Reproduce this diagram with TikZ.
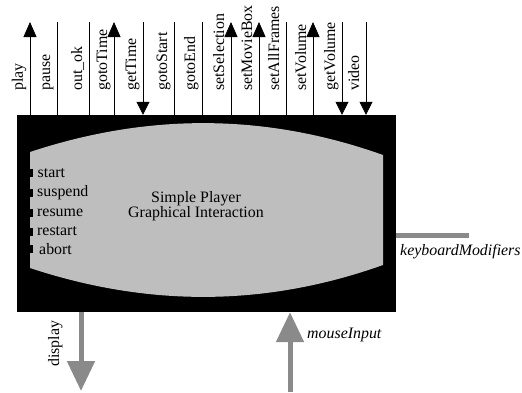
\documentclass[tikz,border=0pt]{standalone}
\usepackage{fontspec}
\setmainfont{Liberation Serif}
\usetikzlibrary{arrows.meta}
\definecolor{panel}{HTML}{BEBEBE}
\definecolor{flow}{HTML}{8A8A8A}
\tikzset{
  sig/.style={line width=0.8pt, black},
  sigup/.style={sig, {Triangle[length=15pt,width=13pt]}-},
  sigdown/.style={sig, -{Triangle[length=13pt,width=13pt]}},
  signone/.style={sig},
  toplabel/.style={rotate=90, anchor=base west, inner sep=0pt},
  sidelabel/.style={anchor=base west, inner sep=0pt},
  flowline/.style={flow, line width=5pt},
  flowarrow/.style={flow, line width=5pt, -{Triangle[length=30pt,width=27pt]}},
  tab/.style={fill=black},
}
\begin{document}
\begin{tikzpicture}[x=1pt,y=-1pt,font=\fontsize{15.9}{15}\selectfont]
\useasboundingbox (0,0) rectangle (522,392);
% main box
\node[fill=black, minimum width=379pt, minimum height=197pt, inner sep=0pt] (box) at (206.5,213.5) {};
% gray panel
\fill[panel] (30,152) .. controls (148,113) and (265,113) .. (383,155)
  -- (383,265) .. controls (265,307) and (148,307) .. (30,268) -- cycle;
% tabs
\foreach \y in {177,197,217,236,253}{
  \fill[tab] (30,\y-8) rectangle (33,\y);
}
\node[sidelabel] (start) at (37.5,177) {start};
\node[sidelabel] (suspend) at (37,196) {suspend};
\node[sidelabel] (resume) at (37,216) {resume};
\node[sidelabel] (restart) at (37,235) {restart};
\node[sidelabel] (abort) at (39,254) {abort};
\node[align=center, inner sep=0pt] (title) at (196,206) {Simple Player\\Graphical Interaction};
% top signals
\foreach \x/\lab/\kind [count=\i] in {30/play/up, 57/pause/none, 89/out\_ok/none, 114/gotoTime/up,
  143/getTime/down, 174/gotoStart/none, 202/gotoEnd/none, 231/setSelection/up,
  259/setMovieBox/up, 286/setAllFrames/none, 313/setVolume/up, 342/getVolume/down, 366/video/down}{
  \coordinate (t\i) at (\x,22);
  \draw[sig\kind] (t\i) -- (t\i |- box.north);
  \node[toplabel] (l\i) at (\x-7,91) {\lab};
}
% keyboard modifiers
\coordinate (kbend) at (469,235);
\draw[flowline] (box.east |- kbend) -- (kbend);
\node[sidelabel, font=\fontsize{15.9}{15}\selectfont\itshape] (kblabel) at (400,255) {keyboardModifiers};
% mouse input
\coordinate (mouse) at (290,392);
\draw[flowarrow] (mouse) -- (mouse |- box.south);
\node[sidelabel, font=\fontsize{15.9}{15}\selectfont\itshape] (mouselabel) at (307,338) {mouseInput};
% display
\coordinate (disp) at (81,391);
\draw[flowarrow] (disp |- box.south) -- (disp);
\node[toplabel] (displabel) at (59,367) {display};
\end{tikzpicture}
\end{document}
